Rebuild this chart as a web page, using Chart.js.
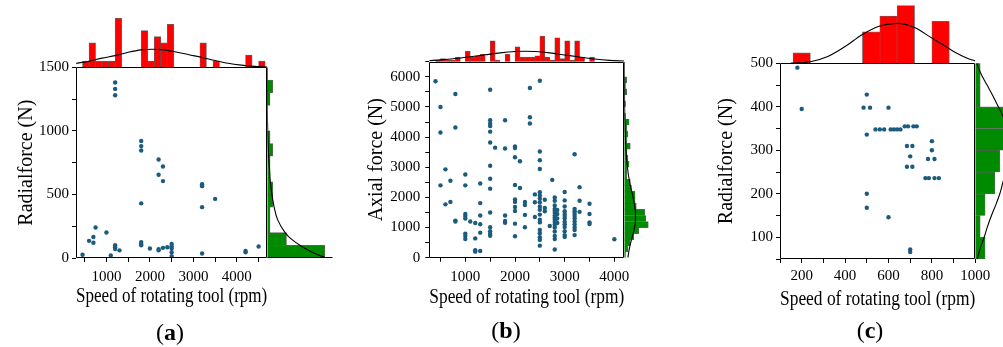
<!DOCTYPE html>
<html><head><meta charset="utf-8">
<script src="https://cdn.jsdelivr.net/npm/chart.js@4.4.1/dist/chart.umd.min.js"></script>
<style>
html,body{margin:0;padding:0;background:#fff;width:1003px;height:347px;overflow:hidden;}
.layer{position:absolute;left:0;top:0;width:1003px;height:347px;}
.lbl{position:absolute;font-family:'Liberation Serif','Times New Roman',serif;font-size:24px;color:#000;transform:translate(-50%,-50%);white-space:nowrap;}
</style></head><body>
<script>
// ---------- Panel (a) ----------
const aSpeed  = [450,600,700,700,750,1000,1100,1200,1200,1200,1200,1200,1200,1300,1800,1800,1800,1800,1800,1800,1800,2000,2200,2200,2200,2200,2300,2300,2300,2400,2500,2500,2500,2500,2500,3200,3200,3200,3200,3500,4200,4200,4500];
const aRadial = [25,135,165,120,240,200,20,1380,1330,1280,100,85,70,60,920,880,845,430,125,110,100,75,775,655,70,60,720,605,80,85,110,90,75,45,15,580,565,400,35,465,55,45,90];
const aTopBins   = [525,675,825,975,1125,1275,1875,2025,2175,2325,2475,3225,3525,4275,4575];
const aTopCounts = [1,4,1,1,1,8,6,1,5,4,7,4,1,2,1];
const aTopCurveRpm   = [300,600,900,1200,1500,1800,2050,2300,2600,2900,3200,3500,3800,4100,4400,4700];
const aTopCurveCount = [0.65,1.0,1.5,1.9,2.45,2.85,2.95,2.85,2.5,2.05,1.6,1.1,0.65,0.35,0.15,0.05];
const aRightBins   = [50,150,250,350,450,550,650,750,850,950,1050,1150,1250,1350];
const aRightCounts = [21,7,1,1,2,2,1,1,2,1,0,0,1,2];
const aRightCurveForce = [0,50,100,150,200,300,400,500,600,700,800,900,1000,1100,1200,1500];
const aRightCurveCount = [21.5,16,11.9,8.7,6.5,3.8,2.5,1.7,1.1,0.8,0.5,0.3,0.15,0.05,0,0];
const aXTicks = [500,1000,1500,2000,2500,3000,3500,4000,4500];
const aXLabels = [1000,2000,3000,4000];
const aYTicks = [0,250,500,750,1000,1250,1500];
const aYLabels = [0,500,1000,1500];

// ---------- Panel (b) ----------
const bSpeed = [
 400,
 500,500,500,
 600,600,
 700,700,
 800,800,800,800,
 1000,1000,1000,1000,1000,1000,1000,1000,
 1100,
 1200,1200,1200,1200,
 1300,1300,1300,1300,1300,1300,
 1500,1500,1500,1500,1500,1500,1500,1500,1500,1500,1500,1500,1500,1500,
 1600,
 1800,1800,1800,1800,1800,
 2000,2000,2000,2000,2000,2000,2000,2000,2000,2000,
 2100,2100,
 2200,2200,2200,2200,
 2300,2300,2300,
 2400,2400,2400,
 2500,2500,2500,2500,2500,2500,2500,2500,2500,2500,2500,2500,2500,2500,2500,2500,2500,2500,
 2600,2600,2600,
 2700,
 2750,
 2800,2800,2800,2800,2800,2800,2800,2800,2800,2800,2800,2800,2800,2800,2800,2800,
 2850,2850,2850,2850,
 3000,3000,3000,3000,3000,3000,3000,3000,3000,3000,3000,3000,3000,
 3200,3200,3200,3200,3200,3200,3200,3200,3200,3200,3200,
 3300,3300,3300,
 3500,3500,3500,3500,
 4000];
const bAxial = [
 5850,
 5000,4150,2400,
 2930,1770,
 2550,1850,
 5430,4320,1230,1200,
 2760,2400,1450,1380,1300,800,720,620,
 1200,
 1150,640,250,200,
 2460,1810,1400,1110,830,220,
 5570,4560,4450,4370,4180,3820,3050,2620,2290,1500,1010,880,790,730,
 3650,
 4560,3620,1400,1220,1160,
 3690,3640,3330,2410,1930,1850,1680,1550,1130,710,
 3200,2310,
 1850,1750,1420,1010,
 5630,4660,4450,
 2100,1840,1350,
 5870,3520,3230,2940,2170,2060,1960,1840,1700,1590,1430,1260,1170,920,810,680,590,400,
 1920,1650,1540,
 1050,
 2580,
 2000,1890,1730,1620,1560,1480,1400,1330,1260,1180,1100,1000,870,720,620,270,
 1580,1450,1300,1150,
 2180,1900,1700,1540,1450,1380,1300,1190,1110,1020,880,750,690,
 3430,1620,1540,1460,1380,1300,1200,1100,1000,920,750,
 2340,1890,1520,
 1790,1450,1170,1120,
 610];
const bTopBins   = [450,550,650,750,850,1050,1150,1250,1350,1550,1650,1850,2050,2150,2250,2350,2450,2550,2650,2750,2850,2950,3050,3150,3250,3350,3550];
const bTopCounts = [1,2,1,1,3,7,3,4,5,14,1,5,10,3,3,3,4,17,3,1,16,2,14,1,14,3,3];
const bTopCurveRpm   = [275,500,800,1100,1400,1700,2000,2200,2400,2700,3000,3300,3600,3900,4200];
const bTopCurveCount = [0.7,1.2,2.1,3.3,4.6,5.9,6.8,7.0,6.8,5.9,4.5,3.1,1.8,0.9,0.45];
const bRightBins   = [100,300,500,700,900,1100,1300,1500,1700,1900,2100,2300,2500,2700,2900,3100,3300,3500,3700,3900,4100,4300,4500,4700,5100,5500,5700,5900];
const bRightCounts = [1,3,5,8,12,20,18,17,10,9,9,6,5,2,2,4,3,2,5,2,3,2,4,1,1,2,1,2];
const bRightCurveForce = [0,300,600,900,1200,1500,1800,2100,2400,2700,3000,3500,4000,4500,5000,5500,6000,6500];
const bRightCurveCount = [3,4.2,6,8,9.3,9.3,8.3,6.8,5,3.6,2.6,1.5,0.9,0.5,0.25,0.12,0.05,0];
const bXTicks = [500,1000,1500,2000,2500,3000,3500,4000];
const bXLabels = [1000,2000,3000,4000];
const bYTicks = [0,500,1000,1500,2000,2500,3000,3500,4000,4500,5000,5500,6000,6500];
const bYLabels = [0,1000,2000,3000,4000,5000,6000];

// ---------- Panel (c) ----------
const cSpeed  = [180,200,500,485,515,500,500,500,600,600,540,560,580,610,625,640,655,675,690,715,730,685,710,700,685,710,800,800,782,812,770,786,812,832,700,700];
const cRadial = [490,395,428,398,398,336,200,168,398,146,348,348,348,348,348,348,348,355,355,355,355,310,310,286,262,262,321,300,280,280,236,236,236,236,72,66];
const cTopBins   = [200,520,600,680,840];
const cTopCounts = [2,6,9,11,8];
const cTopCurveRpm   = [150,240,320,400,480,560,640,720,800,860,915,960,1000];
const cTopCurveCount = [0.05,0.3,1.3,3.2,5.5,7.1,7.6,6.8,4.8,3.3,1.9,1.0,0.45];
const cRightBins   = [75,125,175,225,275,325,375,425,475];
const cRightCounts = [2,1,2,4,5,12,9,1,1];
const cRightCurveForce = [50,75,100,125,150,175,200,225,250,275,300,325,350,375,400,425,450,475,500];
const cRightCurveCount = [0.4,1.0,1.8,2.5,3.3,4.2,5.0,5.6,6.2,6.8,7.1,7.0,6.6,5.8,4.7,3.6,2.4,1.2,0.3];
const cXTicks = [100,200,300,400,500,600,700,800,900,1000];
const cXLabels = [200,400,600,800,1000];
const cYTicks = [50,100,150,200,250,300,350,400,450,500];
const cYLabels = [100,200,300,400,500];

// ---------- styling ----------
const SERIF = "'Liberation Serif', 'Times New Roman', serif";
const DOT = '#1b5b7e';
const RED = '#ff0000';
const GREEN = '#008a00';
const EDGE = 'rgba(50,50,50,0.75)';

const zip = (xs, ys) => xs.map((x, i) => ({x: x, y: ys[i]}));

const framePlugin = {
  id: 'frame',
  afterDatasetsDraw(chart, args, opts) {
    const s = opts && opts.sides;
    if (!s) return;
    const a = chart.chartArea, ctx = chart.ctx;
    const L = Math.round(a.left) + 0.5, R = Math.round(a.right) - 0.5;
    const T = Math.round(a.top) + 0.5, B = Math.round(a.bottom) - 0.5;
    ctx.save();
    ctx.strokeStyle = '#000'; ctx.lineWidth = 1;
    ctx.beginPath();
    if (s.includes('t')) { ctx.moveTo(L, T); ctx.lineTo(R, T); }
    if (s.includes('r')) { ctx.moveTo(R, T); ctx.lineTo(R, B); }
    if (s.includes('b')) { ctx.moveTo(L, B); ctx.lineTo(R, B); }
    if (s.includes('l')) { ctx.moveTo(L, T); ctx.lineTo(L, B); }
    ctx.stroke();
    ctx.restore();
  }
};

const base = {responsive: true, maintainAspectRatio: false, animation: false, devicePixelRatio: 1, events: []};

function makeCanvas() {
  const d = document.createElement('div');
  d.className = 'layer';
  const c = document.createElement('canvas');
  d.appendChild(c);
  document.body.appendChild(d);
  return c;
}

function axisCommon(tickVals, labels, pad) {
  return {
    afterBuildTicks: s => { s.ticks = tickVals.map(v => ({value: v})); },
    grid: {display: true, drawOnChartArea: false, drawTicks: true, tickLength: 4, tickColor: '#000', tickWidth: 1, color: '#000'},
    border: {display: false},
    ticks: {autoSkip: false, maxRotation: 0, minRotation: 0, padding: pad, color: '#000',
            font: {family: SERIF, size: 15}, callback: v => labels.includes(v) ? String(v) : ''}
  };
}

function scatterChart(p) {
  const x = Object.assign({type: 'linear', position: 'bottom', min: p.xMin, max: p.xMax,
    afterFit: s => { s.height = p.xAxisH; },
    title: {display: true, text: p.xTitle, color: '#000', font: {family: SERIF, size: 20}, padding: {top: 0, bottom: p.xTitlePad}}
  }, axisCommon(p.xTicks, p.xLabels, p.xTickPad));
  const y = Object.assign({type: 'linear', position: 'left', min: p.yMin, max: p.yMax,
    afterFit: s => { s.width = p.yAxisW; },
    title: {display: true, text: p.yTitle, color: '#000', font: {family: SERIF, size: 20}, padding: {top: p.yTitlePad, bottom: 0}}
  }, axisCommon(p.yTicks, p.yLabels, p.yTickPad));
  new Chart(makeCanvas(), {
    type: 'scatter',
    data: {datasets: [{data: p.points, pointRadius: 2.2, pointHoverRadius: 2.2, backgroundColor: DOT, borderWidth: 0}]},
    options: Object.assign({}, base, {
      layout: {padding: p.pad},
      plugins: {legend: {display: false}, tooltip: {enabled: false}, frame: {sides: 'trbl'}},
      scales: {x: x, y: y}
    }),
    plugins: [framePlugin]
  });
}

function topHist(p) {
  new Chart(makeCanvas(), {
    type: 'bar',
    data: {datasets: [
      {type: 'line', data: p.curve, borderColor: '#000', borderWidth: 1.1, pointRadius: 0, cubicInterpolationMode: 'monotone', fill: false, order: 0},
      {type: 'bar', data: p.bars, backgroundColor: RED, borderColor: EDGE, borderWidth: 0.7, borderSkipped: 'start', barPercentage: 1, categoryPercentage: 1, order: 1}
    ]},
    options: Object.assign({}, base, {
      layout: {padding: p.pad},
      plugins: {legend: {display: false}, tooltip: {enabled: false}, frame: {sides: p.sides || ''}},
      scales: {
        x: {type: 'linear', min: p.min, max: p.max, display: false, afterBuildTicks: s => { s.ticks = []; }},
        y: {type: 'linear', min: 0, max: p.cmax, display: false}
      }
    }),
    plugins: [framePlugin]
  });
}

function rightHist(p) {
  new Chart(makeCanvas(), {
    type: 'bar',
    data: {datasets: [
      {type: 'line', data: p.curve, borderColor: '#000', borderWidth: 1.1, pointRadius: 0, cubicInterpolationMode: 'monotone', fill: false, order: 0},
      {type: 'bar', data: p.bars, backgroundColor: GREEN, borderColor: EDGE, borderWidth: 0.7, borderSkipped: 'start', barPercentage: 1, categoryPercentage: 1, order: 1}
    ]},
    options: Object.assign({}, base, {
      indexAxis: 'y',
      layout: {padding: p.pad},
      plugins: {legend: {display: false}, tooltip: {enabled: false}, frame: {sides: p.sides || ''}},
      scales: {
        x: {type: 'linear', min: 0, max: p.cmax, display: false},
        y: {type: 'linear', min: p.min, max: p.max, display: false, afterBuildTicks: s => { s.ticks = []; }}
      }
    }),
    plugins: [framePlugin]
  });
}

// ---- Panel (a) ----
scatterChart({
  points: zip(aSpeed, aRadial), xMin: 300, xMax: 4700, yMin: 0, yMax: 1500,
  xTicks: aXTicks, xLabels: aXLabels, yTicks: aYTicks, yLabels: aYLabels,
  pad: {left: 0, top: 67.3, right: 735.7, bottom: 27}, xAxisH: 62, yAxisW: 76,
  xTickPad: 6.5, yTickPad: 3, xTitlePad: 11, yTitlePad: 15,
  xTitle: 'Speed of rotating tool (rpm)', yTitle: 'Radialforce (N)'
});
topHist({bars: zip(aTopBins, aTopCounts), curve: zip(aTopCurveRpm, aTopCurveCount), min: 300, max: 4700, cmax: 10,
  pad: {left: 76, right: 735.7, top: 6, bottom: 279.7}});
rightHist({bars: aRightBins.map((v, i) => ({x: aRightCounts[i], y: v})), curve: aRightCurveForce.map((v, i) => ({x: aRightCurveCount[i], y: v})),
  min: 0, max: 1500, cmax: 24, pad: {left: 267.3, right: 670, top: 67.3, bottom: 89}, sides: 'b'});

// ---- Panel (b) ----
scatterChart({
  points: zip(bSpeed, bAxial), xMin: 275, xMax: 4200, yMin: 0, yMax: 6500,
  xTicks: bXTicks, xLabels: bXLabels, yTicks: bYTicks, yLabels: bYLabels,
  pad: {left: 350, top: 61.7, right: 378.7, bottom: 27.3}, xAxisH: 62, yAxisW: 79.3,
  xTickPad: 6.5, yTickPad: 5, xTitlePad: 9.7, yTitlePad: 14.7,
  xTitle: 'Speed of rotating tool (rpm)', yTitle: 'Axial force (N)'
});
topHist({bars: zip(bTopBins, bTopCounts), curve: zip(bTopCurveRpm, bTopCurveCount), min: 275, max: 4200, cmax: 34.5,
  pad: {left: 429.3, right: 378.7, top: 10, bottom: 285.3}});
rightHist({bars: bRightBins.map((v, i) => ({x: bRightCounts[i], y: v})), curve: bRightCurveForce.map((v, i) => ({x: bRightCurveCount[i], y: v})),
  min: 0, max: 6500, cmax: 25.6, pad: {left: 624.3, right: 348, top: 61.7, bottom: 89.3}});

// ---- Panel (c) ----
scatterChart({
  points: zip(cSpeed, cRadial), xMin: 100, xMax: 1000, yMin: 50, yMax: 500,
  xTicks: cXTicks, xLabels: cXLabels, yTicks: cYTicks, yLabels: cYLabels,
  pad: {left: 700, top: 63.3, right: 27.7, bottom: 26}, xAxisH: 62, yAxisW: 80,
  xTickPad: 4, yTickPad: 3, xTitlePad: 9, yTitlePad: 15,
  xTitle: 'Speed of rotating tool (rpm)', yTitle: 'Radialforce (N)'
});
topHist({bars: zip(cTopBins, cTopCounts), curve: zip(cTopCurveRpm, cTopCurveCount), min: 100, max: 1000, cmax: 12.06,
  pad: {left: 780, right: 27.7, top: 0, bottom: 283.7}});
rightHist({bars: cRightBins.map((v, i) => ({x: cRightCounts[i], y: v})), curve: cRightCurveForce.map((v, i) => ({x: cRightCurveCount[i], y: v})),
  min: 50, max: 500, cmax: 5.65, pad: {left: 975.3, right: 0, top: 63.3, bottom: 88}});

// ---- panel labels ----
[['a', 170, 332], ['b', 506, 330], ['c', 870, 330]].forEach(([t, x, y]) => {
  const d = document.createElement('div');
  d.className = 'lbl';
  d.style.left = x + 'px'; d.style.top = y + 'px';
  d.innerHTML = '(<b>' + t + '</b>)';
  document.body.appendChild(d);
});
</script>
</body></html>
